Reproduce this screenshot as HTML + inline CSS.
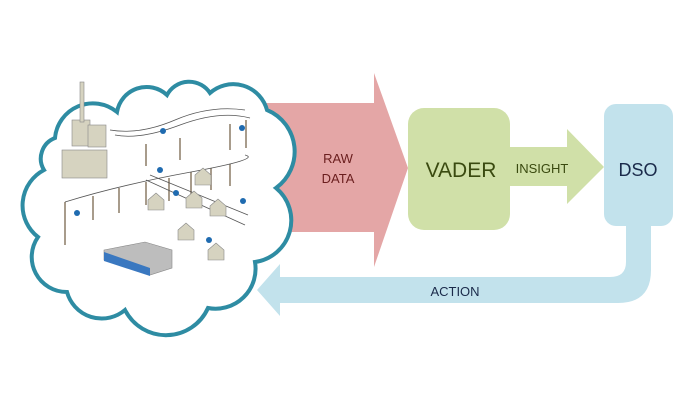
<!DOCTYPE html>
<html><head><style>
body{margin:0;background:#fff;}
svg{display:block}
text{font-family:"Liberation Sans",sans-serif;}
</style></head><body>
<svg width="700" height="400" viewBox="0 0 700 400" xmlns="http://www.w3.org/2000/svg">
<path d="M626,226 L651,226 L651,270 Q651,303 618,303 L280,303 L280,316 L257,290 L280,264 L280,277 L610,277 Q626,277 626,262 Z" fill="#c2e2ec"/>
<text x="455" y="296" font-size="13" fill="#1a2a4a" text-anchor="middle">ACTION</text>
<path d="M250,103 L374,103 L374,73 L408,168 L374,267 L374,232 L250,232 Z" fill="#e4a6a6"/>
<text x="338" y="163" font-size="13" fill="#6a1e1e" text-anchor="middle">RAW</text>
<text x="338" y="183" font-size="13" fill="#6a1e1e" text-anchor="middle">DATA</text>
<path d="M505,147 L567,147 L567,129 L604,167 L567,204 L567,186 L505,186 Z" fill="#d0e0a8"/>
<text x="542" y="173" font-size="13" fill="#3a4a10" text-anchor="middle">INSIGHT</text>
<rect x="408" y="108" width="102" height="122" rx="16" fill="#d0e0a8"/>
<text x="461" y="177" font-size="21" fill="#3a4a10" text-anchor="middle">VADER</text>
<rect x="604" y="104" width="69" height="122" rx="12" fill="#c2e2ec"/>
<text x="638" y="176" font-size="18" fill="#1a2a4a" text-anchor="middle">DSO</text>
<path d="M55,138 A38,38 0 0 1 117,112 A30,30 0 0 1 167,95 A25,25 0 0 1 210,93 A35,35 0 0 1 267,110 A45,45 0 0 1 276,188 A42,42 0 0 1 255,262 A40,40 0 0 1 208,308 A46,46 0 0 1 125,310 A36,36 0 0 1 67,292 A35,35 0 0 1 38,237 A40,40 0 0 1 44,170 A22,22 0 0 1 55,138 Z" fill="#fff" stroke="#2e8ca3" stroke-width="4"/>
<g stroke="#8a7a66" stroke-width="1.5">
<line x1="65" y1="202" x2="65" y2="245"/><line x1="93" y1="196" x2="93" y2="220"/><line x1="119" y1="188" x2="119" y2="213"/><line x1="146" y1="182" x2="146" y2="205"/><line x1="169" y1="178" x2="169" y2="201"/><line x1="191" y1="172" x2="191" y2="196"/><line x1="211" y1="168" x2="211" y2="190"/><line x1="230" y1="164" x2="230" y2="186"/><line x1="146" y1="144" x2="146" y2="166"/><line x1="180" y1="138" x2="180" y2="160"/><line x1="230" y1="124" x2="230" y2="150"/><line x1="246" y1="120" x2="246" y2="148"/>
</g>
<g stroke="#555" stroke-width="0.8" fill="none">
<path d="M65,202 Q120,185 191,172 T245,155"/><path d="M115,135 Q140,140 180,125 T250,118"/><path d="M110,130 Q140,135 175,120 T245,110"/><path d="M146,180 L245,225"/><path d="M150,175 L248,215"/>
</g>
<g fill="#d6d3c0" stroke="#888" stroke-width="0.6">
<rect x="62" y="150" width="45" height="28"/><rect x="72" y="120" width="18" height="26"/><rect x="80" y="82" width="4" height="40"/><rect x="88" y="125" width="18" height="22"/>
<path d="M148,200 l8,-7 l8,7 v10 h-16z"/><path d="M186,198 l8,-7 l8,7 v10 h-16z"/><path d="M210,206 l8,-7 l8,7 v10 h-16z"/><path d="M178,230 l8,-7 l8,7 v10 h-16z"/><path d="M208,250 l8,-7 l8,7 v10 h-16z"/><path d="M195,175 l8,-7 l8,7 v10 h-16z"/>
</g>
<path d="M104,250 L145,242 L172,250 L172,268 L150,275 L104,260 Z" fill="#bdbdbd" stroke="#888" stroke-width="0.6"/>
<path d="M104,252 L150,268 L150,276 L104,261 Z" fill="#3a78c0"/>
<g fill="#1f6bb0"><circle cx="163" cy="131" r="3"/><circle cx="242" cy="128" r="3"/><circle cx="160" cy="170" r="3"/><circle cx="176" cy="193" r="3"/><circle cx="77" cy="213" r="3"/><circle cx="243" cy="201" r="3"/><circle cx="209" cy="240" r="3"/></g>
</svg>
</body></html>
